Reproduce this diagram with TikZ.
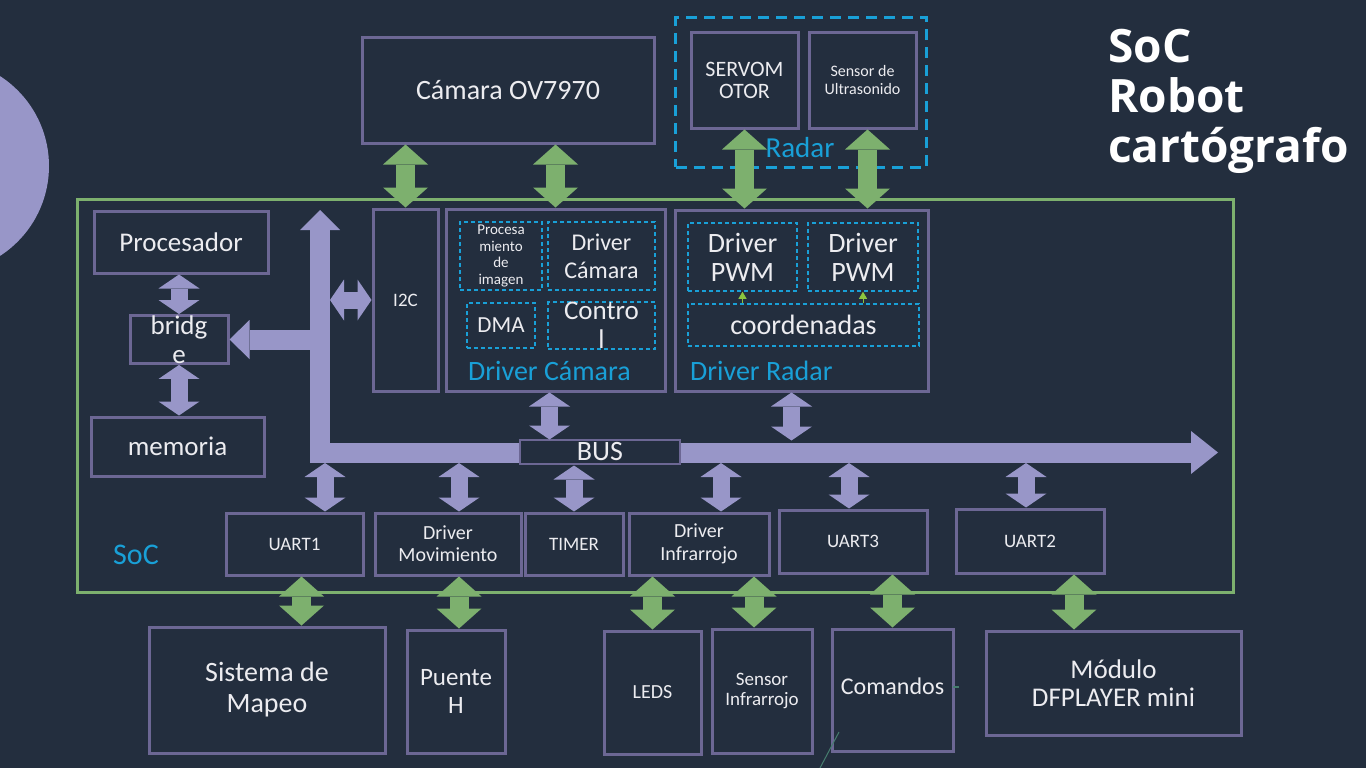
\documentclass[tikz,border=0pt]{standalone}
\usepackage{fontspec}
\setmainfont{Carlito}
\newfontfamily\titlefont{Open Sans}
\usetikzlibrary{arrows.meta}

\definecolor{bg}{RGB}{35,46,62}
\definecolor{lav}{RGB}{152,150,200}
\definecolor{boxln}{RGB}{108,103,148}
\definecolor{socg}{RGB}{125,176,110}
\definecolor{dblue}{RGB}{25,160,215}
\definecolor{txt}{RGB}{236,236,240}
\definecolor{trig}{RGB}{140,198,63}
\definecolor{stray}{RGB}{70,125,110}

\newcommand{\fsz}[2]{\fontsize{#1}{#2}\selectfont}

\tikzset{
  blk/.style={draw=boxln, line width=3pt, fill=bg, text=txt, align=center, inner sep=0pt},
  dsh/.style={draw=dblue, line width=1.5pt, dash pattern=on 4pt off 3pt, text=txt, align=center, inner sep=0pt},
  sz/.style 2 args={minimum width=#1, minimum height=#2},
  lbl/.style={text=dblue, inner sep=0pt},
  bus/.style={draw=lav, line width=20pt},
  larrow/.style={draw=lav, line width=17pt, {Triangle[width=41pt,length=14pt,line width=0pt]}-{Triangle[width=41pt,length=14pt,line width=0pt]}},
  garrow/.style={draw=socg, line width=19pt, {Triangle[width=45pt,length=20pt,line width=0pt]}-{Triangle[width=45pt,length=20pt,line width=0pt]}},
  tri/.style={draw=trig, line width=0.8pt, -{Triangle[width=8pt,length=7pt]}}
}

\begin{document}
\begin{tikzpicture}[x=1pt,y=-1pt]
  \useasboundingbox (0,0) rectangle (1366,768);
  \fill[bg] (0,0) rectangle (1366,768);
  \fill[lav] (-58,166) circle (107);

  \node[draw=socg, line width=3pt, sz={1156pt}{393pt}, inner sep=0pt] (soc) at (655,395.5) {};
  \node[draw=dblue, line width=3pt, dash pattern=on 11pt off 7pt, sz={251pt}{149pt}, inner sep=0pt] (radar) at (801,92.5) {};

  \node[blk, sz={292pt}{105pt}, font=\fsz{28}{30}] (cam) at (508,90.5) {Cámara OV7970};
  \node[blk, sz={107pt}{95pt}, font=\fsz{22}{22}] (servo) at (744.5,80.5) {SERVOM\\OTOR};
  \node[blk, sz={107pt}{95pt}, font=\fsz{16}{18}] (ultra) at (862.5,80.5) {Sensor de\\Ultrasonido};

  \node[blk, sz={174pt}{62pt}, font=\fsz{27}{29}] (proc) at (181,242) {Procesador};
  \node[blk, sz={98pt}{45pt}, font=\fsz{27}{29}] (brdg) at (179,339.5) {bridg\\e};
  \node[blk, sz={173pt}{59pt}, font=\fsz{27}{29}] (mem) at (177.5,446.5) {memoria};
  \node[blk, sz={65pt}{182pt}, font=\fsz{19}{20}] (i2c) at (405.5,300) {I2C};
  \node[blk, sz={219pt}{182pt}] (dcam) at (555.5,300) {};
  \node[blk, sz={253pt}{181pt}] (drad) at (801.5,300.5) {};

  \node[dsh, sz={82pt}{68pt}, font=\fsz{15}{16.7}] (procimg) at (501,256) {Procesa\\miento\\de\\imagen};
  \node[dsh, sz={107pt}{68pt}, font=\fsz{24}{28}] (dcin) at (601.5,256) {Driver\\Cámara};
  \node[dsh, sz={68pt}{45pt}, font=\fsz{23}{25}] (dma) at (501,325.5) {DMA};
  \node[dsh, sz={107pt}{45pt}, font=\fsz{27}{29}] (ctrl) at (601.5,325.5) {Contro\\l};
  \node[dsh, sz={109pt}{68pt}, font=\fsz{28}{29}] (pwm1) at (742.5,257) {Driver\\PWM};
  \node[dsh, sz={110pt}{68pt}, font=\fsz{28}{29}] (pwm2) at (863,257) {Driver\\PWM};
  \node[dsh, sz={231pt}{42pt}, font=\fsz{28}{30}] (coord) at (803.5,325) {coordenadas};

  \node[blk, sz={137pt}{62pt}, font=\fsz{19}{21}] (uart1) at (294.5,544) {UART1};
  \node[blk, sz={146pt}{62pt}, font=\fsz{20}{22}] (dmov) at (448,544) {Driver\\Movimiento};
  \node[blk, sz={98pt}{62pt}, font=\fsz{19}{21}] (timer) at (574,544) {TIMER};
  \node[blk, sz={140pt}{62pt}, font=\fsz{20}{23}] (dinf) at (699,544) {Driver\\Infrarrojo};
  \node[blk, sz={148pt}{63pt}, font=\fsz{19}{21}] (uart3) at (853,541.5) {UART3};
  \node[blk, sz={148pt}{64pt}, font=\fsz{19}{21}] (uart2) at (1030,541) {UART2};

  \node[blk, sz={236pt}{126pt}, font=\fsz{28}{31}] (sis) at (267,690) {Sistema de\\Mapeo};
  \node[blk, sz={98pt}{123pt}, font=\fsz{25}{28}] (puente) at (456,691.5) {Puente\\H};
  \node[blk, sz={97pt}{123pt}, font=\fsz{20}{22}] (leds) at (652.5,692.5) {LEDS};
  \node[blk, sz={100pt}{124pt}, font=\fsz{19}{20}] (sens) at (762,691) {Sensor\\Infrarrojo};
  \node[blk, sz={121pt}{122pt}, font=\fsz{24}{26}] (cmd) at (892.5,690) {\raisebox{7pt}{Comandos}};
  \node[blk, sz={255pt}{104pt}, font=\fsz{27}{28}] (mod) at (1113.5,683) {Módulo\\DFPLAYER mini};

  \coordinate (bustop) at (320,210);
  \coordinate (busknee) at (320,452.5);
  \coordinate (busend) at (1218,452.5);
  \draw[bus, {Triangle[width=40pt,length=20pt,line width=0pt]}-{Triangle[width=43pt,length=27pt,line width=0pt]}] (bustop) -- (busknee) -- (busend);
  \draw[bus, -{Triangle[width=39pt,length=20pt,line width=0pt]}] (bustop |- brdg.east) -- (brdg.east);
  \node[blk, line width=2pt, sz={160pt}{24pt}, font=\fsz{28}{28}] (busl) at (600,452) {BUS};

  \draw[larrow] (proc.south -| brdg.north) -- (brdg.north);
  \draw[larrow] (brdg.south) -- (brdg.south |- mem.north);
  \draw[larrow] (i2c.west) -- ([xshift=-41.5pt]i2c.west);
  \draw[larrow] ([xshift=-6pt]dcam.south) -- ([xshift=-6pt,yshift=-47pt]dcam.south);
  \draw[larrow] ([xshift=-10pt]drad.south) -- ([xshift=-10pt,yshift=-48pt]drad.south);
  \draw[larrow] ([xshift=30.5pt]uart1.north) -- ([xshift=30.5pt,yshift=48.5pt]uart1.north);
  \draw[larrow] ([xshift=11pt]dmov.north) -- ([xshift=11pt,yshift=48.5pt]dmov.north);
  \draw[larrow] (timer.north) -- ([yshift=46pt]timer.north);
  \draw[larrow] ([xshift=22pt]dinf.north) -- ([xshift=22pt,yshift=48.5pt]dinf.north);
  \draw[larrow] ([xshift=-4pt]uart3.north) -- ([xshift=-4pt,yshift=45.5pt]uart3.north);
  \draw[larrow] ([xshift=-4pt]uart2.north) -- ([xshift=-4pt,yshift=44.5pt]uart2.north);

  \draw[garrow] (i2c.north |- cam.south) -- (i2c.north);
  \draw[garrow] (dcam.north |- cam.south) -- (dcam.north);
  \draw[garrow] (servo.south) -- (servo.south |- drad.north);
  \draw[garrow] ([xshift=5pt]ultra.south) -- ([xshift=5pt,yshift=-79pt]ultra.south);
  \draw[garrow] ([xshift=7pt]uart1.south) -- ([xshift=7pt,yshift=-49pt]uart1.south);
  \draw[garrow] ([xshift=11pt]dmov.south) -- ([xshift=11pt,yshift=-52pt]dmov.south);
  \draw[garrow] (leds.north |- dinf.south) -- (leds.north);
  \draw[garrow] ([xshift=-8pt]sens.north) -- ([xshift=-8pt,yshift=51pt]sens.north);
  \draw[garrow] (cmd.north |- uart3.south) -- (cmd.north);
  \draw[garrow] ([xshift=44pt]uart2.south) -- ([xshift=44pt,yshift=-55pt]uart2.south);

  \draw[tri] (coord.north -| pwm1) -- (pwm1.south);
  \draw[tri] (coord.north -| pwm2) -- (pwm2.south);

  \node[lbl, anchor=west, font=\fsz{28}{28}] (lcam) at (468,371) {Driver Cámara};
  \node[lbl, anchor=west, font=\fsz{28}{28}] (lrad) at (690,371) {Driver Radar};
  \node[lbl, font=\fsz{29}{29}] (lradar) at (800,148) {Radar};
  \node[lbl, font=\fsz{30}{30}] (lsoc) at (136,555) {SoC};

  \node[anchor=north west, align=left, text=white, inner sep=0pt, font=\titlefont\bfseries\fsz{46}{50}] (title) at (1108,29) {SoC\\Robot\\cartógrafo};

  \draw[stray, line width=1pt] (839,732) -- (820,768);
  \draw[stray, line width=1.5pt] (953,687) -- (959,687);
\end{tikzpicture}
\end{document}
